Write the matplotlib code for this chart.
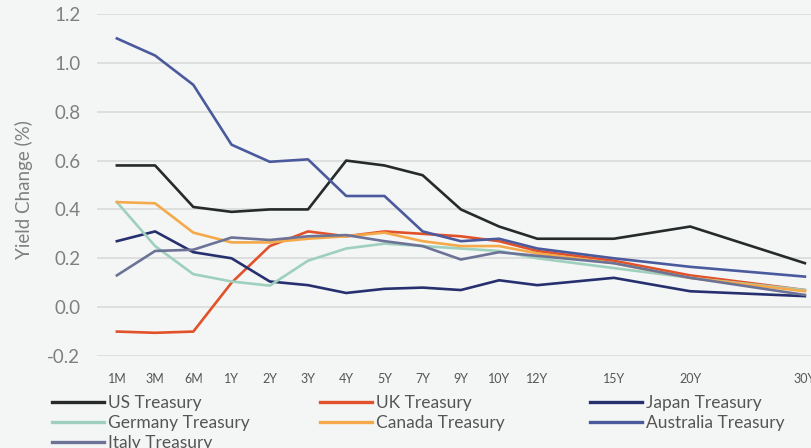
import matplotlib
matplotlib.use("Agg")
import matplotlib.pyplot as plt

plt.rcParams['font.family'] = ['Lato', 'DejaVu Sans']

tenors = ['1M', '3M', '6M', '1Y', '2Y', '3Y', '4Y', '5Y', '7Y', '9Y', '10Y', '12Y', '15Y', '20Y', '30Y']
tenor_pos = [0, 1, 2, 3, 4, 5, 6, 7, 8, 9, 10, 11, 13, 15, 18]

us = [0.58, 0.58, 0.41, 0.39, 0.40, 0.40, 0.60, 0.58, 0.54, 0.40, 0.33, 0.28, 0.28, 0.33, 0.18]
uk = [-0.10, -0.105, -0.10, 0.10, 0.25, 0.31, 0.29, 0.31, 0.30, 0.29, 0.27, 0.23, 0.19, 0.13, 0.07]
japan = [0.27, 0.31, 0.225, 0.20, 0.105, 0.09, 0.058, 0.075, 0.08, 0.07, 0.11, 0.09, 0.12, 0.065, 0.045]
germany = [0.43, 0.25, 0.135, 0.105, 0.088, 0.19, 0.24, 0.26, 0.25, 0.24, 0.23, 0.20, 0.16, 0.12, 0.07]
canada = [0.43, 0.425, 0.305, 0.265, 0.265, 0.28, 0.29, 0.305, 0.27, 0.25, 0.25, 0.22, 0.18, 0.12, 0.065]
australia = [1.10, 1.03, 0.91, 0.665, 0.595, 0.605, 0.455, 0.455, 0.31, 0.27, 0.28, 0.24, 0.20, 0.165, 0.125]
italy = [0.13, 0.23, 0.235, 0.285, 0.275, 0.29, 0.295, 0.27, 0.25, 0.195, 0.225, 0.21, 0.18, 0.12, 0.05]

series = [
    ('US Treasury', us, '#262a2a'),
    ('UK Treasury', uk, '#e2522a'),
    ('Japan Treasury', japan, '#27306e'),
    ('Germany Treasury', germany, '#9fd0bd'),
    ('Canada Treasury', canada, '#f4aa4a'),
    ('Australia Treasury', australia, '#4b5a9c'),
    ('Italy Treasury', italy, '#6c7396'),
]

bg = '#f4f6f6'
fig = plt.figure(figsize=(8.11, 4.48), dpi=100, facecolor=bg)
ax = fig.add_axes([97/811, 1 - 356/448, 1 - 97/811, (356 - 14)/448])
ax.set_facecolor(bg)

handles = {}
for name, vals, col in series:
    ln, = ax.plot(tenor_pos, vals, color=col, lw=1.9, label=name, solid_joinstyle='round')
    handles[name] = ln

ax.set_xlim(-0.52, 18.16)
ax.set_ylim(-0.2, 1.2)
ax.set_yticks([-0.2, 0.0, 0.2, 0.4, 0.6, 0.8, 1.0, 1.2])
ax.set_yticklabels(['-0.2', '0.0', '0.2', '0.4', '0.6', '0.8', '1.0', '1.2'])
ax.set_xticks(tenor_pos)
ax.set_xticklabels(tenors)
ax.tick_params(axis='y', length=0, pad=12, labelsize=13.5, labelcolor='#7f7f7f')
ax.tick_params(axis='x', length=0, pad=12.5, labelsize=9, labelcolor='#555555')
ax.grid(axis='y', color='#d6d8d8', lw=1.1)
ax.set_axisbelow(True)
for s in ax.spines.values():
    s.set_visible(False)

fig.text(24/811, 1 - 190/448, 'Yield Change (%)', rotation=90, va='center', ha='center',
         fontsize=13.5, color='#7f7f7f')

cols = [
    (['US Treasury', 'Germany Treasury', 'Italy Treasury'], 52),
    (['UK Treasury', 'Canada Treasury'], 320),
    (['Japan Treasury', 'Australia Treasury'], 590),
]
for names, x0 in cols:
    leg = fig.legend([handles[n] for n in names], names, loc='upper left',
                     bbox_to_anchor=(x0/811, 1 - 395/448), frameon=False,
                     fontsize=12.5, handlelength=3.0, handletextpad=0.2,
                     labelspacing=0.22, borderpad=0, borderaxespad=0)
    for t in leg.get_texts():
        t.set_color('#555555')
    for l in leg.get_lines():
        l.set_linewidth(2.4)

fig.savefig('out.png', dpi=100, facecolor=bg)
